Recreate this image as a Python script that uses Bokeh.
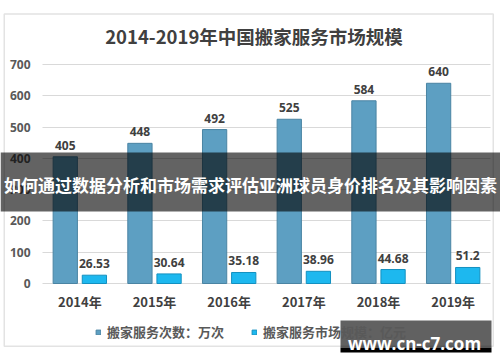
from bokeh.plotting import figure
from bokeh.models import (ColumnDataSource, Range1d, FixedTicker, BoxAnnotation,
                          Label, Legend, LegendItem)
from bokeh.transform import dodge
from bokeh.core.properties import value
from bokeh.embed import file_html
from bokeh.resources import INLINE

# ---------------- data ----------------
years = ["2014年", "2015年", "2016年", "2017年", "2018年", "2019年"]
service_counts = [405, 448, 492, 525, 584, 640]          # 搬家服务次数：万次
market_size = [26.53, 30.64, 35.18, 38.96, 44.68, 51.2]  # 搬家服务市场规模：亿元
count_labels = ["405", "448", "492", "525", "584", "640"]
size_labels = ["26.53", "30.64", "35.18", "38.96", "44.68", "51.2"]
y_ticks = [0, 100, 200, 300, 400, 500, 600, 700]
series_names = ["搬家服务次数：万次", "搬家服务市场规模：亿元"]
title_text = "2014-2019年中国搬家服务市场规模"
banner_text = "如何通过数据分析和市场需求评估亚洲球员身价排名及其影响因素"
watermark_text = "www.cn-c7.com"

# ---------------- layout (pixels) ----------------
W, H = 500, 362
FL, FR, FT, FB = 42, 490, 64, 283   # plotting area of the bars
PX_X = (FR - FL) / len(years)
PX_Y = (FB - FT) / y_ticks[-1]


def dx(ix):
    return (ix - FL) / PX_X


def dy(iy):
    return (FB - iy) / PX_Y


CJK = "Noto Sans CJK SC"
NUM = "Open Sans"

p = figure(width=W, height=H,
           x_range=Range1d(dx(0), dx(W)), y_range=Range1d(dy(H), dy(0)),
           output_backend="svg", toolbar_location=None,
           min_border=0, min_border_left=0, min_border_right=0,
           min_border_top=0, min_border_bottom=0)
p.outline_line_color = None
p.background_fill_color = "white"
p.border_fill_color = "white"

src = ColumnDataSource(dict(
    x=[i + 0.5 for i in range(len(years))],
    counts=service_counts, size=market_size,
    cl=count_labels, sl=size_labels))

OFF, BW = 0.195, 0.325
LABEL_GAP = 11.5 / PX_Y   # px above the bar top, in data units
r1 = p.vbar(x=dodge("x", -OFF), top="counts", width=BW, source=src,
            fill_color="#5d9fc2", line_color="#4a84a3", line_width=1)
r2 = p.vbar(x=dodge("x", OFF), top="size", width=BW, source=src,
            fill_color="#1db8ef", line_color="#1390c0", line_width=1)

p.text(x=dodge("x", -OFF), y=dodge("counts", LABEL_GAP), text="cl",
       source=src, text_align="center", text_baseline="alphabetic",
       text_font=value(NUM), text_font_style="bold",
       text_font_size="12px", text_color="#404040")
p.text(x=dodge("x", OFF), y=dodge("size", LABEL_GAP), text="sl",
       source=src, text_align="center", text_baseline="alphabetic",
       text_font=value(NUM), text_font_style="bold",
       text_font_size="12px", text_color="#404040")

# axes, pinned to the data origin so they sit inside the canvas
p.xaxis.fixed_location = 0
p.xaxis.ticker = FixedTicker(ticks=[i + 0.5 for i in range(len(years))])
p.xaxis.major_label_overrides = {i + 0.5: years[i] for i in range(len(years))}
p.xaxis.axis_line_color = None
p.xaxis.major_tick_line_color = None
p.xaxis.major_tick_out = 0
p.xaxis.major_tick_in = 0
p.xaxis.minor_tick_line_color = None
p.xaxis.major_label_text_font = CJK
p.xaxis.major_label_text_font_style = "bold"
p.xaxis.major_label_text_font_size = "13px"
p.xaxis.major_label_text_color = "#404040"
p.xaxis.major_label_standoff = 8

p.yaxis.fixed_location = 0
p.yaxis.ticker = FixedTicker(ticks=y_ticks)
p.yaxis.axis_line_color = None
p.yaxis.major_tick_line_color = None
p.yaxis.major_tick_out = 0
p.yaxis.major_tick_in = 0
p.yaxis.minor_tick_line_color = None
p.yaxis.major_label_text_font = NUM
p.yaxis.major_label_text_font_style = "bold"
p.yaxis.major_label_text_font_size = "12px"
p.yaxis.major_label_text_color = "#595959"
p.yaxis.major_label_standoff = 12

p.xgrid.visible = False
g = p.ygrid[0]
g.grid_line_color = "#d9d9d9"
g.grid_line_width = 1
if "cross_bounds" in g.properties():
    g.cross_bounds = (0, len(years))

# chart border
p.add_layout(BoxAnnotation(left=dx(3.75), right=dx(492.75), top=dy(13.5),
                           bottom=dy(345.75), fill_alpha=0,
                           line_color="#a3a3a3", line_width=1.5,
                           level="underlay"))

# title
p.add_layout(Label(x=dx(253.5), y=dy(35), text=title_text,
                   text_align="center", text_baseline="middle",
                   text_font=CJK, text_font_style="bold",
                   text_font_size="18.5px", text_color="#404040"))

# legend
legend = Legend(items=[LegendItem(label=series_names[0], renderers=[r1]),
                       LegendItem(label=series_names[1], renderers=[r2])],
                location=(95, H - 341), orientation="horizontal",
                glyph_width=6, glyph_height=6, label_height=14,
                label_standoff=6, spacing=27, padding=0, margin=0,
                border_line_alpha=0, background_fill_alpha=0,
                label_text_font=CJK, label_text_font_size="13px",
                label_text_font_style="bold", label_text_color="#595959")
p.add_layout(legend)

# overlay banner
p.add_layout(BoxAnnotation(left=dx(0), right=dx(W), top=dy(152),
                           bottom=dy(211), fill_color="black",
                           fill_alpha=0.61, line_color=None))
p.add_layout(Label(x=dx(250), y=dy(184), text=banner_text,
                   text_align="center", text_baseline="middle",
                   text_font=CJK, text_font_style="bold",
                   text_font_size="17px", text_color="white"))

# watermark
p.add_layout(BoxAnnotation(left=dx(340), right=dx(491), top=dy(320),
                           bottom=dy(347), fill_color="black",
                           fill_alpha=0.62, line_color=None))
p.add_layout(BoxAnnotation(left=dx(340), right=dx(491), top=dy(347),
                           bottom=dy(352), fill_color="black",
                           fill_alpha=1.0, line_color=None))
p.add_layout(Label(x=dx(414), y=dy(343), text=watermark_text,
                   text_align="center", text_baseline="alphabetic",
                   text_font=NUM, text_font_style="bold",
                   text_font_size="17px", text_color="white"))

open("out.html", "w").write(file_html(p, INLINE))
